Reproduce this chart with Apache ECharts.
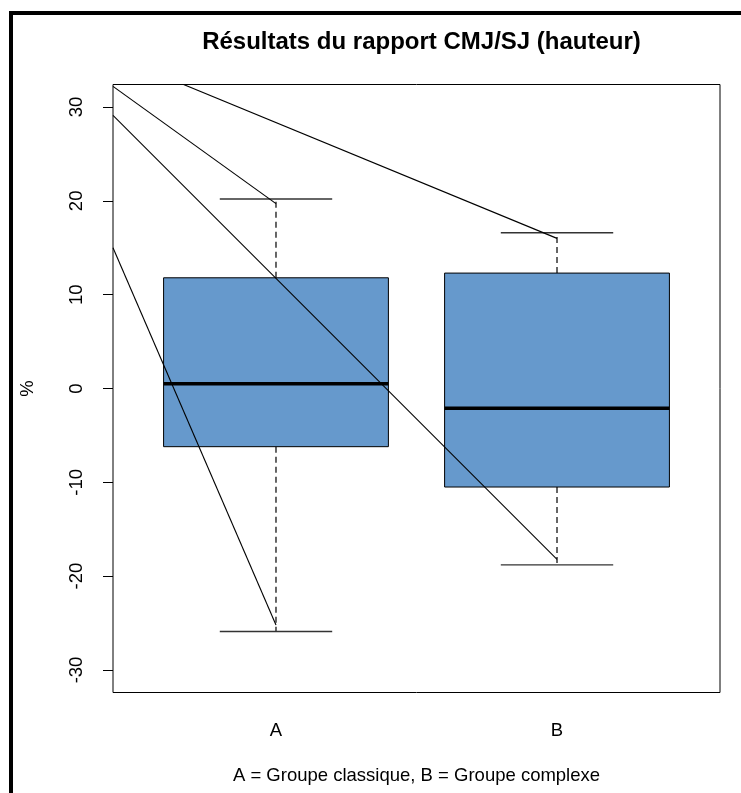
<!DOCTYPE html>
<html>
<head>
<meta charset="utf-8">
<script src="https://cdn.jsdelivr.net/npm/echarts@6/dist/echarts.min.js"></script>
<style>
  html, body { margin: 0; padding: 0; background: #fff; }
  #chart { width: 741px; height: 793px; }
</style>
</head>
<body>
<div id="chart"></div>
<script>
// groupes et statistiques des boîtes (en %)
const categories = ['A', 'B'];
const whiskerLow = [-25.9, -18.8];
const quart1 = [-6.2, -10.5];
const medians = [0.5, -2.1];
const quart3 = [11.8, 12.3];
const whiskerHigh = [20.2, 16.6];

// segments tracés par-dessus : départ au bord gauche, arrivée sur un groupe
const lineStartY = [32.2, 29.1, 15.0, 35.5];
const lineEndGroup = [0, 1, 0, 1];
const lineEndY = [19.7, -18.2, -25.2, 16.0];

const yTicks = [-30, -20, -10, 0, 10, 20, 30];

const X_MIN = 0.42, X_MAX = 2.58;
const Y_MIN = -32.4, Y_MAX = 32.4;
const FONT = '"Liberation Sans", Arial, sans-serif';

const boxData = categories.map((c, i) => [i + 1, whiskerLow[i], quart1[i], medians[i], quart3[i], whiskerHigh[i]]);

const renderBox = (params, api) => {
  const x = api.value(0);
  const lo = api.value(1), q1 = api.value(2), med = api.value(3), q3 = api.value(4), hi = api.value(5);
  const half = 0.4, capHalf = 0.2;
  const pLo = api.coord([x, lo]), pQ1 = api.coord([x, q1]), pQ3 = api.coord([x, q3]), pHi = api.coord([x, hi]);
  const left = api.coord([x - half, med]), right = api.coord([x + half, med]);
  const capL = api.coord([x - capHalf, lo])[0], capR = api.coord([x + capHalf, lo])[0];
  const dash = { stroke: '#000', lineWidth: 1.2, lineDash: [6, 4] };
  const cap = { stroke: '#333', lineWidth: 1.4 };
  return {
    type: 'group',
    children: [
      { type: 'line', shape: { x1: pQ3[0], y1: pQ3[1], x2: pHi[0], y2: pHi[1] }, style: dash },
      { type: 'line', shape: { x1: pQ1[0], y1: pQ1[1], x2: pLo[0], y2: pLo[1] }, style: dash },
      { type: 'line', shape: { x1: capL, y1: pHi[1], x2: capR, y2: pHi[1] }, style: cap },
      { type: 'line', shape: { x1: capL, y1: pLo[1], x2: capR, y2: pLo[1] }, style: cap },
      { type: 'rect', shape: { x: left[0], y: pQ3[1], width: right[0] - left[0], height: pQ1[1] - pQ3[1] },
        style: { fill: '#6699CC', stroke: '#000', lineWidth: 1 } },
      { type: 'line', shape: { x1: left[0], y1: left[1], x2: right[0], y2: right[1] },
        style: { stroke: '#000', lineWidth: 3.5 } }
    ]
  };
};

const lineSeries = lineStartY.map((y0, i) => ({
  type: 'line',
  data: [[X_MIN, y0], [lineEndGroup[i] + 1, lineEndY[i]]],
  showSymbol: false,
  clip: true,
  silent: true,
  lineStyle: { color: '#000', width: 1.1 },
  z: 5
}));

const chart = echarts.init(document.getElementById('chart'));
chart.setOption({
  animation: false,
  title: {
    text: 'Résultats du rapport CMJ/SJ (hauteur)',
    left: 416.5,
    top: 25,
    textAlign: 'center',
    textStyle: { fontFamily: FONT, fontSize: 24, fontWeight: 'bold', color: '#000' }
  },
  graphic: [
    { type: 'rect', shape: { x: 9, y: 11, width: 4, height: 782 }, style: { fill: '#000' } },
    { type: 'rect', shape: { x: 9, y: 11, width: 732, height: 4 }, style: { fill: '#000' } }
  ],
  grid: {
    left: 113, top: 84.5, width: 607, height: 608,
    show: true, borderColor: '#000', borderWidth: 1, backgroundColor: 'transparent'
  },
  xAxis: {
    type: 'value',
    min: X_MIN, max: X_MAX,
    name: 'A = Groupe classique, B = Groupe complexe',
    nameLocation: 'middle',
    nameGap: 74,
    nameTextStyle: { fontFamily: FONT, fontSize: 18.5, color: '#000' },
    axisLine: { show: false },
    splitLine: { show: false },
    axisTick: { show: true, length: 10, customValues: [1, 2], lineStyle: { color: '#000' } },
    axisLabel: {
      customValues: [1, 2],
      formatter: v => categories[Math.round(v) - 1],
      margin: 29,
      fontFamily: FONT, fontSize: 18.5, color: '#000'
    }
  },
  yAxis: {
    type: 'value',
    min: Y_MIN, max: Y_MAX,
    name: '%',
    nameLocation: 'middle',
    nameGap: 76,
    nameRotate: 90,
    nameTextStyle: { fontFamily: FONT, fontSize: 18.5, color: '#000' },
    axisLine: { show: false },
    splitLine: { show: false },
    axisTick: { show: true, length: 10, customValues: yTicks, lineStyle: { color: '#000' } },
    axisLabel: {
      customValues: yTicks,
      rotate: 90,
      margin: 27,
      fontFamily: FONT, fontSize: 18.5, color: '#000'
    }
  },
  series: [
    {
      type: 'custom',
      renderItem: renderBox,
      data: boxData,
      encode: { x: 0, y: [1, 2, 3, 4, 5] },
      silent: true,
      z: 2
    },
    ...lineSeries
  ]
});
</script>
</body>
</html>
